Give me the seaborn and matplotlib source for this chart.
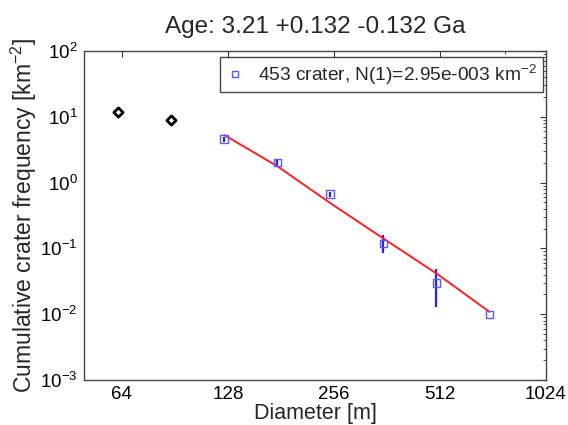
import matplotlib
matplotlib.use("Agg")
import matplotlib.pyplot as plt
import seaborn as sns
import numpy as np
import pandas as pd
from matplotlib.lines import Line2D
from matplotlib.ticker import FixedLocator, NullFormatter, LogLocator, LogFormatterSciNotation

# ---- data ----
diam_excluded = [62.5, 88.4]
freq_excluded = [11.7, 8.9]

diam_fit = [125, 177, 250, 354, 500, 707]
freq_fit = [4.55, 2.01, 0.664, 0.119, 0.0301, 0.00995]
err_low = [4.2, 1.85, 0.61, 0.086, 0.0127, np.nan]
err_high = [4.9, 2.17, 0.72, 0.16, 0.048, np.nan]

iso_diam = [125, 177, 250, 354, 500, 707]
iso_freq = [5.29, 1.77, 0.488, 0.141, 0.0417, 0.0109]

x_ticks = [64, 128, 256, 512, 1024]
x_ticklabels = ["64", "128", "256", "512", "1024"]

title_text = "Age: 3.21 +0.132 -0.132 Ga"
legend_text = "453 crater, N(1)=2.95e-003 km$^{-2}$"
xlabel_text = "Diameter [m]"
ylabel_text = "Cumulative crater frequency [km$^{-2}$]"

# ---- style ----
sns.set_style("white")
plt.rcParams["font.family"] = ["Liberation Sans", "DejaVu Sans"]
plt.rcParams["mathtext.fontset"] = "custom"
plt.rcParams["mathtext.rm"] = "Liberation Sans"
plt.rcParams["mathtext.it"] = "Liberation Sans"
plt.rcParams["mathtext.default"] = "regular"

fig = plt.figure(figsize=(5.68, 4.25), dpi=100)
ax = fig.add_axes([84/568, 1-380/425, (546-84)/568, (380-51)/425])

df_ex = pd.DataFrame({"D": diam_excluded, "N": freq_excluded})
df_fit = pd.DataFrame({"D": diam_fit, "N": freq_fit, "lo": err_low, "hi": err_high})
df_iso = pd.DataFrame({"D": iso_diam, "N": iso_freq})

ax.set_xscale("log", base=2)
ax.set_yscale("log")

# error bars
ax.vlines(df_fit["D"], df_fit["lo"], df_fit["hi"], colors="#1f1fff", linewidth=1.6, zorder=2)

# isochron line
sns.lineplot(data=df_iso, x="D", y="N", ax=ax, color="#ff2020", linewidth=1.4, zorder=3, legend=False)

# excluded diamonds
sns.scatterplot(data=df_ex, x="D", y="N", ax=ax, marker="D", s=22, facecolor="white",
                edgecolor="black", linewidth=2.0, zorder=4, legend=False)

# fitted squares
sns.scatterplot(data=df_fit, x="D", y="N", ax=ax, marker="s", s=30, facecolor="none",
                edgecolor="#5a5aff", linewidth=1.0, zorder=5, legend=False)

ax.set_xlim(50, 1024)
ax.set_ylim(1e-3, 1e2)

ax.xaxis.set_major_locator(FixedLocator(x_ticks))
ax.set_xticklabels(x_ticklabels)
ax.xaxis.set_minor_locator(FixedLocator([782]))
ax.xaxis.set_minor_formatter(NullFormatter())

ax.yaxis.set_major_locator(LogLocator(base=10, numticks=10))
ax.yaxis.set_major_formatter(LogFormatterSciNotation())
ax.yaxis.set_minor_locator(LogLocator(base=10, subs=np.arange(2, 10), numticks=20))
ax.yaxis.set_minor_formatter(NullFormatter())

ax.tick_params(which="both", direction="in", top=True, right=True, colors="#333333",
               labelcolor="black", labelsize=13.5)
ax.tick_params(which="major", length=4.5, width=0.8, pad=4.5)
ax.tick_params(which="minor", length=2.5, width=0.6)
for s in ax.spines.values():
    s.set_color("#444444")
    s.set_linewidth(1.0)

ax.set_xlabel(xlabel_text, fontsize=15.5, labelpad=-0.5)
ax.set_ylabel(ylabel_text, fontsize=16.5, labelpad=1)
ax.set_title(title_text, fontsize=17.5, pad=13)

handle = Line2D([], [], linestyle="none", marker="s", markersize=5, markerfacecolor="none",
                markeredgecolor="#5a5aff", markeredgewidth=1.0)
leg = ax.legend([handle], [legend_text], loc="upper right", fontsize=13.8,
                bbox_to_anchor=(543/568, 1-56.7/425), bbox_transform=fig.transFigure,
                frameon=True, fancybox=False, framealpha=1, edgecolor="#444444",
                borderaxespad=0, handlelength=1.0, handletextpad=0.7, borderpad=0.3)
leg.get_frame().set_linewidth(1.0)

fig.savefig("out.png", dpi=100, facecolor="white")
